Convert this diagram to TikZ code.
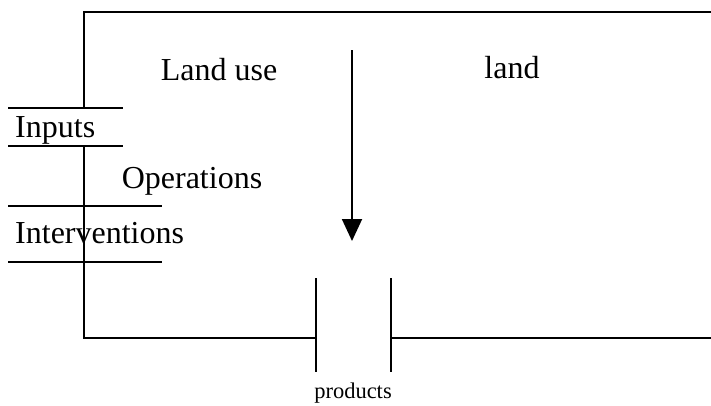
\documentclass[tikz,border=0pt]{standalone}
\usepackage{fontspec}
\setmainfont{Liberation Serif}
\usetikzlibrary{arrows.meta}

\tikzset{
  frame/.style={line width=1.9pt},
  lbl/.style={inner sep=0pt, font=\fontsize{32}{38}\selectfont},
  small/.style={inner sep=0pt, font=\fontsize{22.5}{27}\selectfont},
}

\begin{document}
\begin{tikzpicture}[x=1pt, y=-1pt]
			\useasboundingbox (0, 0) rectangle (711, 405);
			% labels
			\node[lbl, anchor=base] (landuse) at (219, 80) {Land use};
			\node[lbl, anchor=base] (land) at (512, 78) {land};
			\node[lbl, anchor=base west] (inputs) at (15, 137) {Inputs};
			\node[lbl, anchor=base] (oper) at (192, 188) {Operations};
			\node[lbl, anchor=base west] (interv) at (15, 243) {Interventions};
			\node[small, anchor=base] (prod) at (353, 398) {products};
			% frame
			\coordinate (top) at (352, 50);
			\coordinate (tip) at (352, 241);
			\draw[frame] (711, 12) -- (84, 12) -- (84, 108);
			\draw[frame] (84, 146) -- (84, 338) -- (316, 338);
			\draw[frame] (391, 338) -- (711, 338);
			\draw[frame] (316, 278) -- (316, 372);
			\draw[frame] (391, 278) -- (391, 372);
			% bars
			\draw[frame] (8, 108) -- (123, 108);
			\draw[frame] (8, 146) -- (123, 146);
			\draw[frame] (8, 206) -- (162, 206);
			\draw[frame] (8, 262) -- (162, 262);
			\draw[frame, -{Triangle[length=22pt, width=20pt]}] (top) -- (tip);
		\end{tikzpicture}
\end{document}
